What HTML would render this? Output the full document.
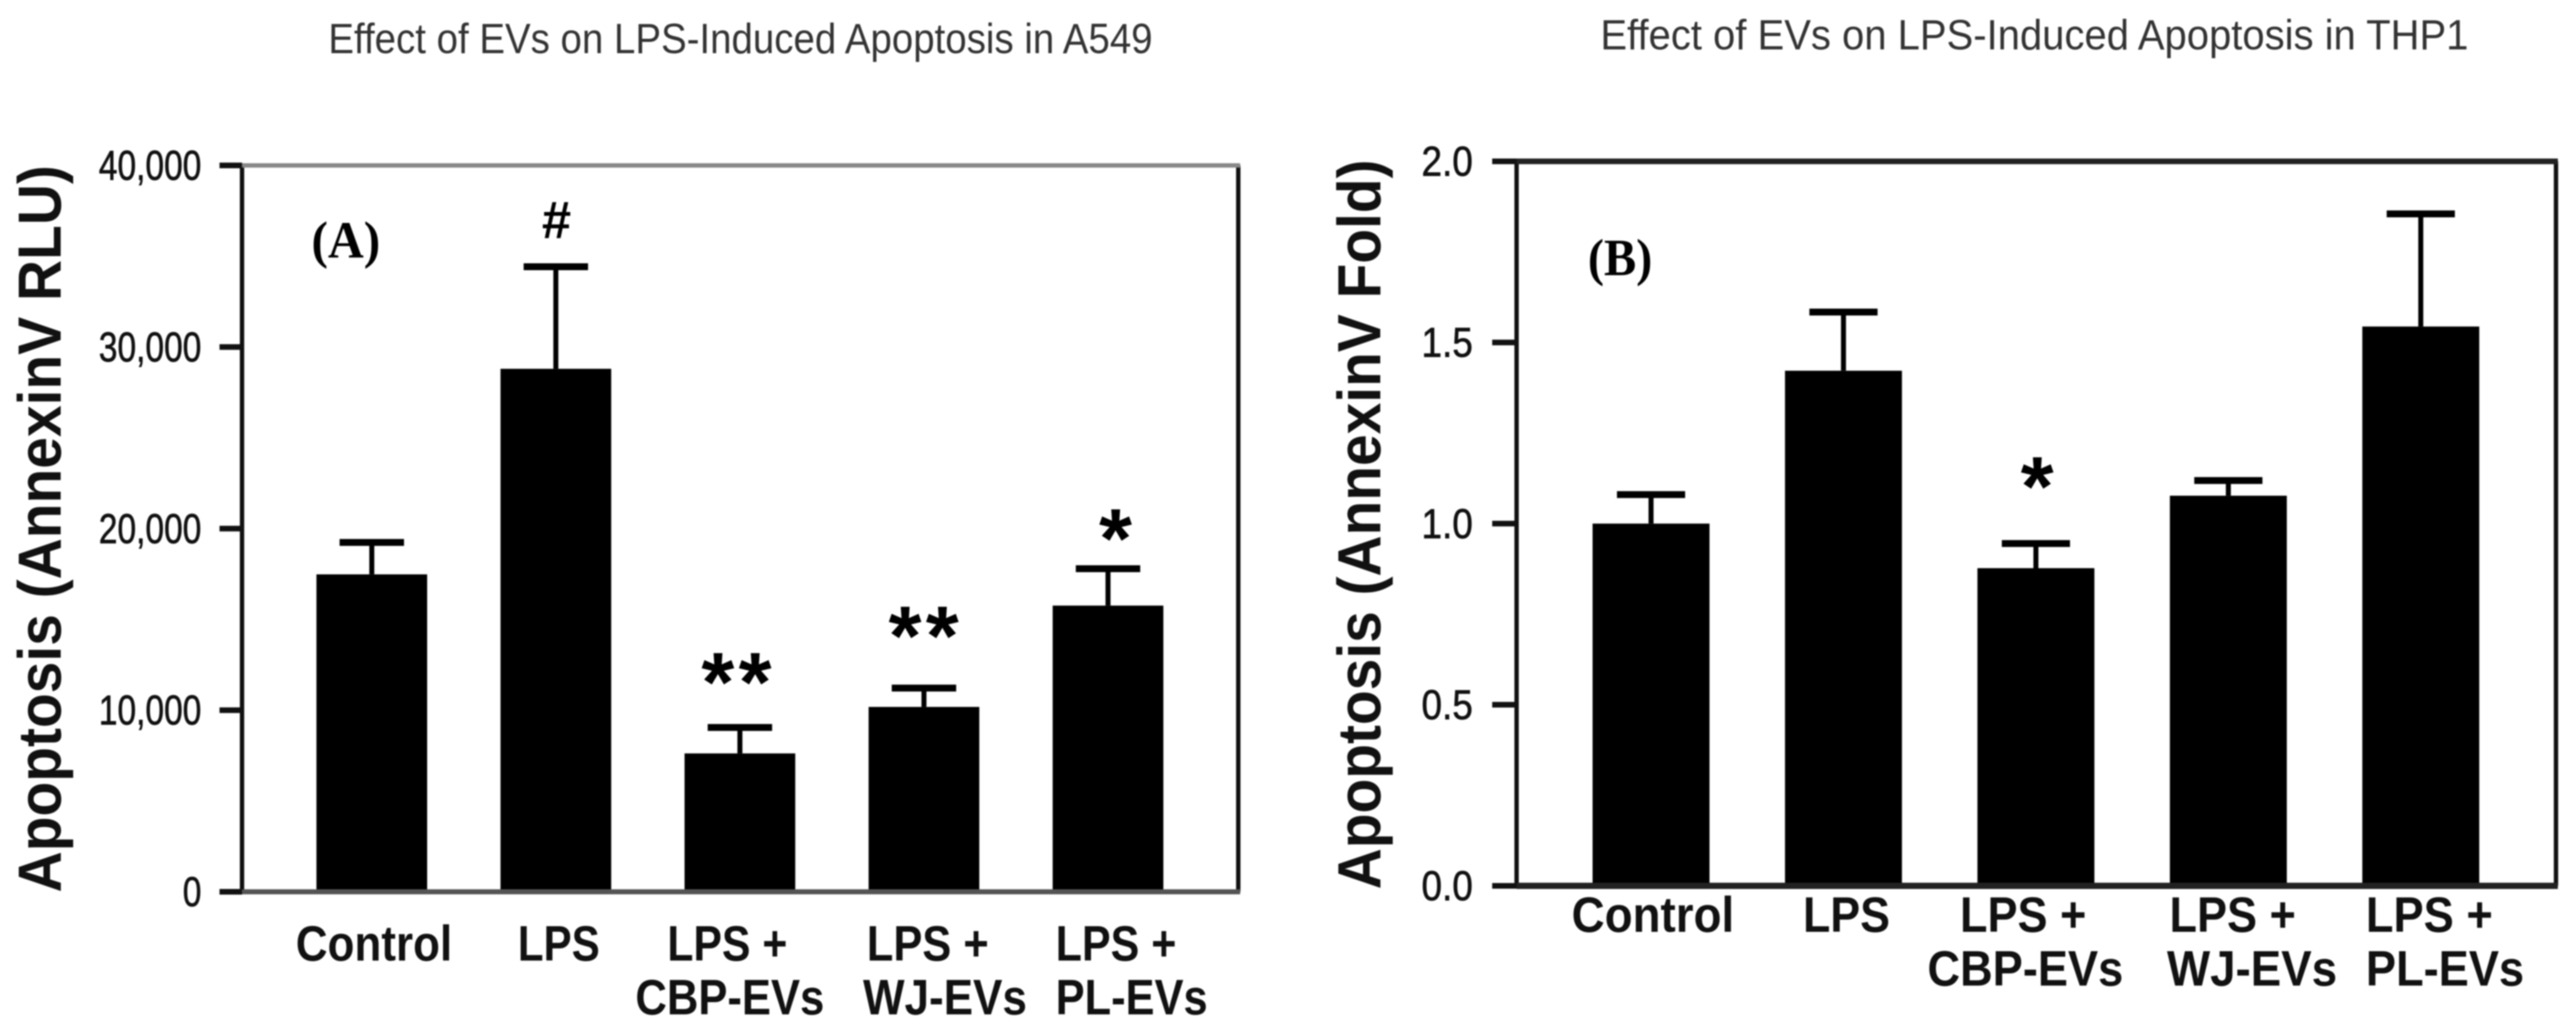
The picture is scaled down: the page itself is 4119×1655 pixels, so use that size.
<!DOCTYPE html>
<html lang="en">
<head>
<meta charset="utf-8">
<title>Effect of EVs on LPS-Induced Apoptosis</title>
<style>
  html, body { margin: 0; padding: 0; background: #fff; }
  svg { display: block; font-family: "Liberation Sans", sans-serif; filter: blur(1px); }
  .title { font-size: 68px; fill: #333; }
  .cat { font-size: 80px; font-weight: bold; fill: #111; }
  .ytitle { font-size: 97px; font-weight: bold; fill: #111; }
  .panel { font-family: "Liberation Serif", serif; font-size: 84px; font-weight: bold; fill: #000; }
  .tick { font-size: 67px; fill: #111; stroke: #111; stroke-width: 1px; }
  .sig { font-weight: bold; fill: #000; }
</style>
</head>
<body>
<svg id="figure" xmlns="http://www.w3.org/2000/svg" width="4119" height="1655" viewBox="0 0 4119 1655">
  <rect x="0" y="0" width="4119" height="1655" fill="#fff"/>

  <g id="chart-a"></g>
  <g id="chart-b"></g>

  <text class="title" x="525" y="85" textLength="1318" lengthAdjust="spacingAndGlyphs">Effect of EVs on LPS-Induced Apoptosis in A549</text>
  <text class="title" x="2559" y="79" textLength="1388" lengthAdjust="spacingAndGlyphs">Effect of EVs on LPS-Induced Apoptosis in THP1</text>

  <text class="ytitle" transform="translate(97,1427) rotate(-90)" textLength="1163" lengthAdjust="spacingAndGlyphs">Apoptosis (AnnexinV RLU)</text>
  <text class="ytitle" transform="translate(2207,1422) rotate(-90)" textLength="1167" lengthAdjust="spacingAndGlyphs">Apoptosis (AnnexinV Fold)</text>

  <text class="panel" x="498" y="412" textLength="110" lengthAdjust="spacingAndGlyphs">(A)</text>
  <text class="panel" x="2539" y="440" textLength="103" lengthAdjust="spacingAndGlyphs">(B)</text>

  <g>
    <text class="cat" x="473" y="1536" textLength="250" lengthAdjust="spacingAndGlyphs">Control</text>
    <text class="cat" x="828" y="1536" textLength="131" lengthAdjust="spacingAndGlyphs">LPS</text>
    <text class="cat" x="1067" y="1536" textLength="192" lengthAdjust="spacingAndGlyphs">LPS +</text>
    <text class="cat" x="1016" y="1622" textLength="302" lengthAdjust="spacingAndGlyphs">CBP-EVs</text>
    <text class="cat" x="1386" y="1536" textLength="195" lengthAdjust="spacingAndGlyphs">LPS +</text>
    <text class="cat" x="1380" y="1622" textLength="262" lengthAdjust="spacingAndGlyphs">WJ-EVs</text>
    <text class="cat" x="1688" y="1536" textLength="193" lengthAdjust="spacingAndGlyphs">LPS +</text>
    <text class="cat" x="1688" y="1622" textLength="243" lengthAdjust="spacingAndGlyphs">PL-EVs</text>
  </g>

  <g>
    <text class="cat" x="2513" y="1490" textLength="260" lengthAdjust="spacingAndGlyphs">Control</text>
    <text class="cat" x="2883" y="1490" textLength="139" lengthAdjust="spacingAndGlyphs">LPS</text>
    <text class="cat" x="3134" y="1490" textLength="202" lengthAdjust="spacingAndGlyphs">LPS +</text>
    <text class="cat" x="3082" y="1576" textLength="313" lengthAdjust="spacingAndGlyphs">CBP-EVs</text>
    <text class="cat" x="3469" y="1490" textLength="202" lengthAdjust="spacingAndGlyphs">LPS +</text>
    <text class="cat" x="3465" y="1576" textLength="272" lengthAdjust="spacingAndGlyphs">WJ-EVs</text>
    <text class="cat" x="3783" y="1490" textLength="203" lengthAdjust="spacingAndGlyphs">LPS +</text>
    <text class="cat" x="3783" y="1576" textLength="253" lengthAdjust="spacingAndGlyphs">PL-EVs</text>
  </g>
</svg>

<script>
const categories = ['control', 'lps', 'lps-cbp-evs', 'lps-wj-evs', 'lps-pl-evs'];

const a549Values = [17480, 28800, 7620, 10180, 15760];
const a549Errors = [1760, 5620, 1430, 1040, 2030];
const a549Ticks = [0, 10000, 20000, 30000, 40000];
const a549TickLabels = ['0', '10,000', '20,000', '30,000', '40,000'];

const thp1Values = [1.00, 1.422, 0.877, 1.077, 1.544];
const thp1Errors = [0.08, 0.162, 0.068, 0.042, 0.311];
const thp1Ticks = [0, 0.5, 1.0, 1.5, 2.0];
const thp1TickLabels = ['0.0', '0.5', '1.0', '1.5', '2.0'];

const NS = 'http://www.w3.org/2000/svg';

function make(parent, tag, attrs) {
  const el = document.createElementNS(NS, tag);
  for (const k in attrs) el.setAttribute(k, attrs[k]);
  parent.appendChild(el);
  return el;
}

function drawChart(cfg) {
  const g = document.getElementById(cfg.id);
  const y = v => cfg.yBottom - (v / cfg.yMax) * (cfg.yBottom - cfg.yTop);
  const xCenter = i => cfg.firstCenter + i * cfg.step;

  cfg.categories.forEach(function (cat, i) {
    const yv = y(cfg.values[i]);
    const yErr = y(cfg.values[i] + cfg.errors[i]);

    const stem = make(g, 'line', { x1: xCenter(i), x2: xCenter(i), y1: yv, y2: yErr, stroke: '#000', 'stroke-width': 8 });
    
    

    const cap = make(g, 'line', { x1: xCenter(i) - cfg.capWidth / 2, x2: xCenter(i) + cfg.capWidth / 2, y1: yErr, y2: yErr, stroke: '#000', 'stroke-width': 11 });
    
    

    const bar = make(g, 'rect', { x: xCenter(i) - cfg.barWidth / 2, y: yv, width: cfg.barWidth, height: cfg.yBottom - yv, fill: '#000' });
    
    
  });

  const frame = make(g, 'path', {
    d: 'M' + cfg.xLeft + ' ' + cfg.yBottom + ' V' + cfg.yTop + ' M' + cfg.xRight + ' ' + cfg.yTop + ' V' + cfg.yBottom,
    stroke: '#111', 'stroke-width': 7, fill: 'none'
  });
  
  

  const topLine = make(g, 'line', { x1: cfg.xLeft, x2: cfg.xRight + 3, y1: cfg.yTop, y2: cfg.yTop, stroke: cfg.topColor, 'stroke-width': cfg.topWidth });
  
  

  const baseLine = make(g, 'line', { x1: cfg.xLeft, x2: cfg.xRight + 3, y1: cfg.yBottom, y2: cfg.yBottom, stroke: cfg.baseColor, 'stroke-width': cfg.baseWidth });
  
  

  cfg.ticks.forEach(function (t, i) {
    const tick = make(g, 'line', { x1: cfg.xLeft - cfg.tickLength, x2: cfg.xLeft, y1: y(t), y2: y(t), stroke: '#111', 'stroke-width': 9 });
    
    

    const label = make(g, 'text', { 'class': 'tick', x: cfg.tickLabelX, y: y(t) + 23, 'text-anchor': 'end' });
    label.textContent = cfg.tickLabels[i];
    
    
    label.setAttribute('textLength', label.getComputedTextLength() * cfg.tickCondense);
    label.setAttribute('lengthAdjust', 'spacingAndGlyphs');
  });

  cfg.marks.forEach(function (m) {
    const sig = make(g, 'text', {
      'class': 'sig',
      x: xCenter(m.index) + m.dx,
      y: y(cfg.values[m.index] + cfg.errors[m.index]) + m.dy,
      'text-anchor': 'middle',
      'font-size': m.size,
      'letter-spacing': m.spacing
    });
    sig.textContent = m.text;
    
    
  });
}

drawChart({
  id: 'chart-a', categories: categories, values: a549Values, errors: a549Errors,
  ticks: a549Ticks, tickLabels: a549TickLabels,
  yMax: 40000, yTop: 264.5, yBottom: 1426,
  xLeft: 387, xRight: 1980, firstCenter: 594.5, step: 294.3, barWidth: 177, capWidth: 103,
  tickLength: 36, tickLabelX: 322, tickCondense: 0.8,
  topColor: '#888', topWidth: 7, baseColor: '#555', baseWidth: 8,
  marks: [
    { index: 1, text: '#', dx: 1, dy: -46, size: 84, spacing: 0 },
    { index: 2, text: '**', dx: -2, dy: -26, size: 135, spacing: 7 },
    { index: 3, text: '**', dx: 3, dy: -37, size: 135, spacing: 7 },
    { index: 4, text: '*', dx: 12, dy: -2, size: 135, spacing: 0 }
  ]
});

drawChart({
  id: 'chart-b', categories: categories, values: thp1Values, errors: thp1Errors,
  ticks: thp1Ticks, tickLabels: thp1TickLabels,
  yMax: 2.0, yTop: 258, yBottom: 1416.5,
  xLeft: 2425, xRight: 4087, firstCenter: 2640, step: 307.7, barWidth: 187, capWidth: 109,
  tickLength: 39, tickLabelX: 2355, tickCondense: 0.88,
  topColor: '#222', topWidth: 9, baseColor: '#222', baseWidth: 10,
  marks: [
    { index: 2, text: '*', dx: 2, dy: -45, size: 135, spacing: 0 }
  ]
});
</script>
</body>
</html>
